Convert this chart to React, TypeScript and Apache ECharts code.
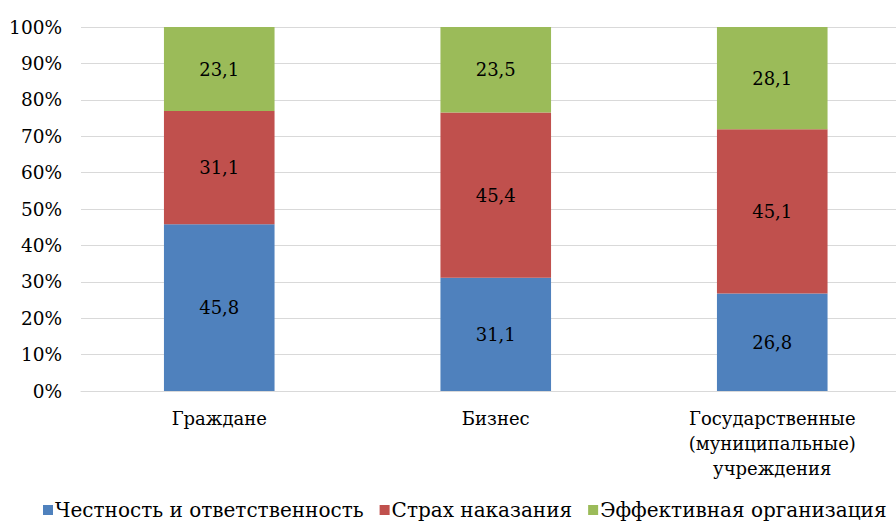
import React, { useEffect, useRef } from "react";
import * as echarts from "echarts";

const categories = ["Граждане", "Бизнес", "Государственные\n(муниципальные)\nучреждения"];
const seriesNames = ["Честность и ответственность", "Страх наказания", "Эффективная организация"];
const honesty = [45.8, 31.1, 26.8];
const fear = [31.1, 45.4, 45.1];
const efficient = [23.1, 23.5, 28.1];
const colors = ["#4F81BD", "#C0504D", "#9BBB59"];

const FONT = "DejaVu Serif";

export default function App() {
  const ref = useRef<HTMLDivElement>(null);
  useEffect(() => {
    if (!ref.current) return;
    const chart = echarts.init(ref.current, null, { renderer: "svg" });
    const data = [honesty, fear, efficient];
    chart.setOption({
      animation: false,
      textStyle: { fontFamily: FONT },
      grid: {
        left: 81,
        width: 829.5,
        top: 27,
        height: 364,
        outerBoundsMode: "none",
      },
      legend: {
        data: seriesNames,
        left: 38,
        top: 495,
        icon: "rect",
        itemWidth: 10,
        itemHeight: 10,
        itemGap: 16,
        textStyle: { fontFamily: FONT, fontSize: 20, color: "#000", padding: [0, 0, 0, -3] },
      },
      xAxis: {
        type: "category",
        data: categories,
        axisLine: { show: true, lineStyle: { color: "#d9d9d9" } },
        axisTick: { show: false },
        axisLabel: {
          fontFamily: FONT,
          fontSize: 18,
          color: "#000",
          margin: 15,
          lineHeight: 25,
          interval: 0,
        },
      },
      yAxis: {
        type: "value",
        min: 0,
        max: 100,
        interval: 10,
        axisLine: { show: false },
        axisTick: { show: false },
        splitLine: { lineStyle: { color: "#d9d9d9" } },
        axisLabel: {
          fontFamily: FONT,
          fontSize: 18.5,
          color: "#000",
          margin: 19,
          formatter: (v: number) => v + "%",
        },
      },
      series: seriesNames.map((name, i) => ({
        name,
        type: "bar",
        stack: "total",
        barWidth: "40%",
        data: data[i],
        itemStyle: { color: colors[i] },
        label: {
          show: true,
          position: "inside",
          fontFamily: FONT,
          fontSize: 18,
          color: "#000",
          formatter: (p: any) => String(p.value).replace(".", ","),
        },
      })),
    });
    return () => chart.dispose();
  }, []);
  return (
    <div
      ref={ref}
      style={{ position: "fixed", left: 0, top: 0, width: 896, height: 523, background: "#fff" }}
    />
  );
}
